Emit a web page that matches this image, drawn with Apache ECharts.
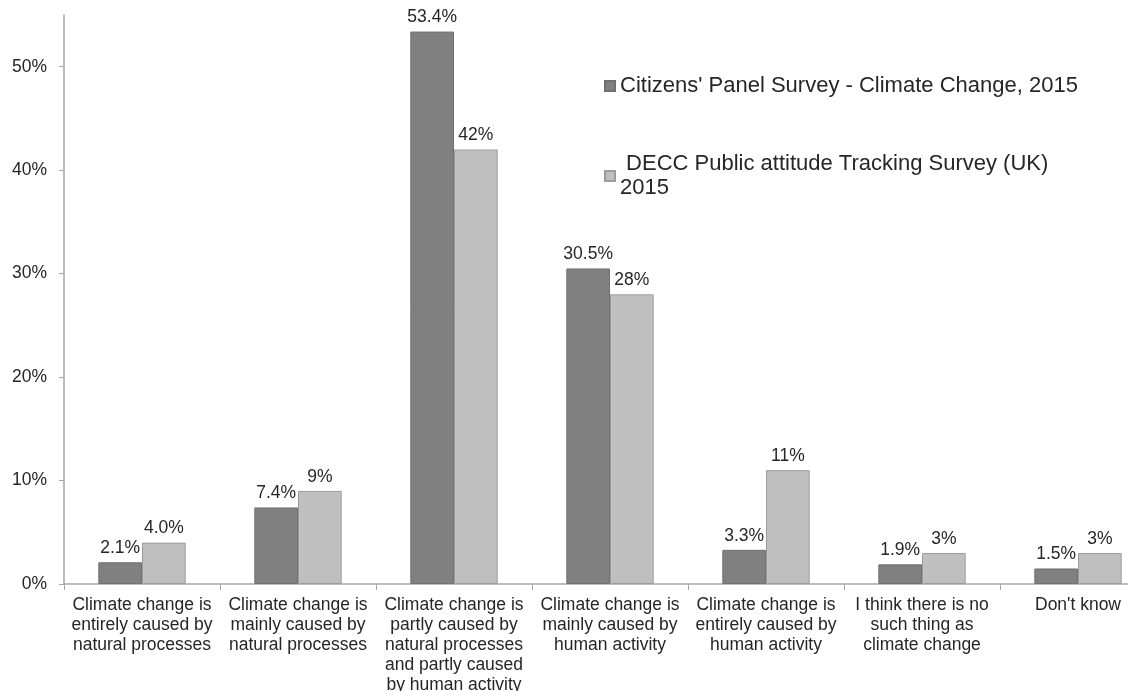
<!DOCTYPE html>
<html>
<head>
<meta charset="utf-8">
<script src="https://cdn.jsdelivr.net/npm/echarts@6/dist/echarts.min.js"></script>
<style>
  html, body { margin: 0; padding: 0; background: #fff; }
  #chart { width: 1128px; height: 691px; }
</style>
</head>
<body>
<div id="chart"></div>
<script>
/* data */
const categories = [
  'Climate change is\nentirely caused by\nnatural processes',
  'Climate change is\nmainly caused by\nnatural processes',
  'Climate change is\npartly caused by\nnatural processes\nand partly caused\nby human activity',
  'Climate change is\nmainly caused by\nhuman activity',
  'Climate change is\nentirely caused by\nhuman activity',
  'I think there is no\nsuch thing as\nclimate change',
  "Don't know"
];
const seriesNames = [
  "Citizens' Panel Survey - Climate Change, 2015",
  ' DECC Public attitude Tracking Survey (UK)\n2015'
];
const panelValues = [2.1, 7.4, 53.4, 30.5, 3.3, 1.9, 1.5];
const panelLabels = ['2.1%', '7.4%', '53.4%', '30.5%', '3.3%', '1.9%', '1.5%'];
const deccValues = [4.0, 9, 42, 28, 11, 3, 3];
const deccLabels = ['4.0%', '9%', '42%', '28%', '11%', '3%', '3%'];
const yTicks = [0, 10, 20, 30, 40, 50];

const FONT = "'Liberation Sans', Arial, sans-serif";
const TEXT = '#262626';
const AXIS = '#a6a6a6';

const chart = echarts.init(document.getElementById('chart'), null, { renderer: 'canvas' });

function barSeries(name, values, labels, color, border) {
  return {
    name,
    type: 'bar',
    data: values,
    barGap: '0%',
    barCategoryGap: '44%',
    itemStyle: { color, borderColor: border, borderWidth: 1 },
    label: {
      show: true,
      position: 'top',
      distance: 5,
      fontFamily: FONT,
      fontSize: 17.5,
      color: TEXT,
      formatter: p => labels[p.dataIndex]
    }
  };
}

// the source image is cropped on the right: plot runs past the edge
chart.setOption({
  animation: false,
  textStyle: { fontFamily: FONT },
  grid: {
    left: 64, width: 1092, top: 15, bottom: 107,
    containLabel: false, outerBoundsMode: 'none'
  },
  legend: [
    {
      data: [seriesNames[0]],
      left: 599, top: 70,
      itemWidth: 10, itemHeight: 10, icon: 'rect',
      textStyle: { fontFamily: FONT, fontSize: 22, color: TEXT }
    },
    {
      data: [seriesNames[1]],
      left: 599, top: 135,
      itemWidth: 10, itemHeight: 10, icon: 'rect',
      textStyle: { fontFamily: FONT, fontSize: 22, color: TEXT, lineHeight: 24, padding: [24, 0, 0, 0] }
    }
  ],
  xAxis: {
    type: 'category',
    data: categories,
    axisLine: { lineStyle: { color: AXIS, width: 1.5 } },
    axisTick: { show: true, length: 6, lineStyle: { color: AXIS } },
    axisLabel: {
      interval: 0,
      fontFamily: FONT, fontSize: 17.5, lineHeight: 20, color: TEXT,
      margin: 11
    }
  },
  yAxis: {
    type: 'value',
    min: 0, max: 55, interval: 10,
    axisLine: { show: true, lineStyle: { color: AXIS, width: 1.5 } },
    axisTick: { show: true, length: 5, lineStyle: { color: AXIS } },
    splitLine: { show: false },
    axisLabel: {
      showMaxLabel: false,
      fontFamily: FONT, fontSize: 17.5, color: TEXT, margin: 17,
      formatter: v => (yTicks.includes(v) ? v + '%' : '')
    }
  },
  series: [
    barSeries(seriesNames[0], panelValues, panelLabels, '#808080', '#707070'),
    barSeries(seriesNames[1], deccValues, deccLabels, '#bfbfbf', '#9c9c9c')
  ]
});
</script>
</body>
</html>
